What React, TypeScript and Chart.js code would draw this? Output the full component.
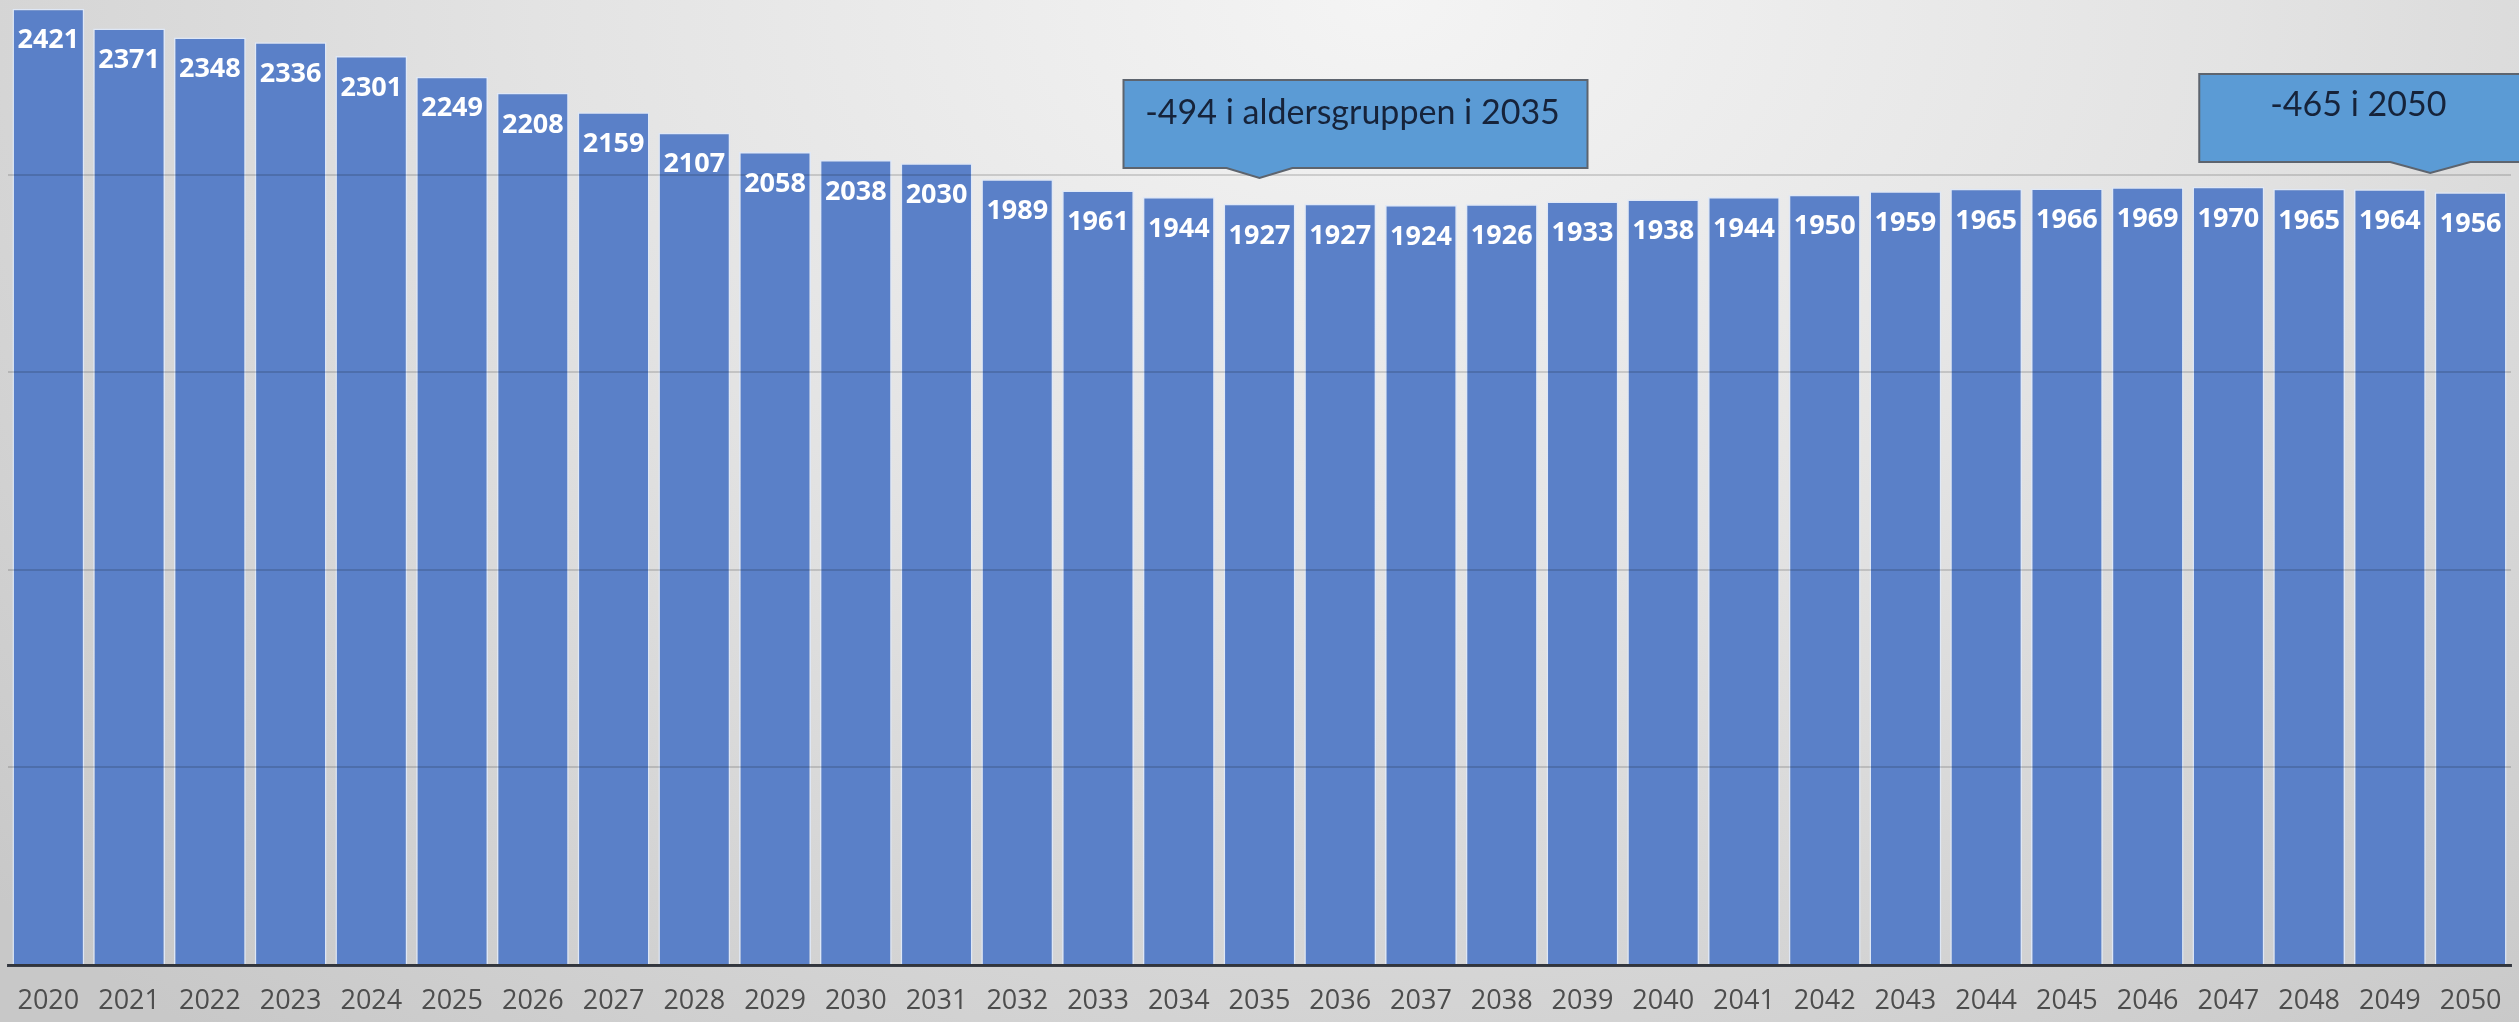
import React, { useEffect, useRef } from "react";
import { Chart, registerables } from "chart.js";

Chart.register(...registerables);

const years = [
  "2020", "2021", "2022", "2023", "2024", "2025", "2026", "2027", "2028", "2029",
  "2030", "2031", "2032", "2033", "2034", "2035", "2036", "2037", "2038", "2039",
  "2040", "2041", "2042", "2043", "2044", "2045", "2046", "2047", "2048", "2049", "2050",
];
const values = [
  2421, 2371, 2348, 2336, 2301, 2249, 2208, 2159, 2107, 2058,
  2038, 2030, 1989, 1961, 1944, 1927, 1927, 1924, 1926, 1933,
  1938, 1944, 1950, 1959, 1965, 1966, 1969, 1970, 1965, 1964, 1956,
];
const yTicks = [0, 500, 1000, 1500, 2000];
const calloutTexts = ["-494 i aldersgruppen i 2035", "-465 i 2050"];

const labelPlugin = {
  id: "barLabelsAndCallouts",
  afterDraw(chart: any) {
    const ctx = chart.ctx;
    const meta = chart.getDatasetMeta(0);
    ctx.save();
    ctx.fillStyle = "#ffffff";
    ctx.font = "bold 27px 'Open Sans'";
    ctx.textAlign = "center";
    ctx.textBaseline = "middle";
    meta.data.forEach((bar: any, i: number) => {
      ctx.fillText(String(values[i]), bar.x, bar.y + 32);
    });
    ctx.restore();

    const xs = chart.scales.x;
    const pitch = xs.getPixelForValue(1) - xs.getPixelForValue(0);
    const tip1 = xs.getPixelForValue(years.indexOf("2035"));
    const tip2 = xs.getPixelForValue(years.indexOf("2049")) + pitch / 2;
    const shapes = [
      { text: calloutTexts[0], tipX: tip1, tipY: 178, left: tip1 - 136, right: tip1 + 328, top: 80, bottom: 168, half: 33, tx: tip1 + 93, ty: 113, maxW: 425 },
      { text: calloutTexts[1], tipX: tip2, tipY: 173, left: tip2 - 231, right: tip2 + 93, top: 74, bottom: 162, half: 40, tx: tip2 - 72, ty: 105, maxW: 185 },
    ];
    shapes.forEach((s) => {
      ctx.save();
      ctx.beginPath();
      ctx.moveTo(s.left, s.top);
      ctx.lineTo(s.right, s.top);
      ctx.lineTo(s.right, s.bottom);
      ctx.lineTo(s.tipX + s.half, s.bottom);
      ctx.lineTo(s.tipX, s.tipY);
      ctx.lineTo(s.tipX - s.half, s.bottom);
      ctx.lineTo(s.left, s.bottom);
      ctx.closePath();
      ctx.fillStyle = "#5b9bd5";
      ctx.fill();
      ctx.lineWidth = 2;
      ctx.strokeStyle = "#5d646e";
      ctx.stroke();
      ctx.fillStyle = "#16233a";
      ctx.font = "34px Lato";
      ctx.textAlign = "center";
      ctx.textBaseline = "middle";
      ctx.fillText(s.text, s.tx, s.ty, s.maxW);
      ctx.restore();
    });
  },
};

export default function App() {
  const canvasRef = useRef<HTMLCanvasElement | null>(null);

  useEffect(() => {
    if (!canvasRef.current) return;
    const chart = new Chart(canvasRef.current, {
      type: "bar",
      data: {
        labels: years,
        datasets: [
          {
            data: values,
            backgroundColor: "#5a80c8",
            borderColor: "rgba(222,232,248,0.95)",
            borderWidth: 1.5,
            barPercentage: 0.89,
            categoryPercentage: 1,
          },
        ],
      },
      options: {
        animation: false,
        responsive: true,
        maintainAspectRatio: false,
        layout: { padding: { left: 8, right: 8, top: 0, bottom: 0 } },
        plugins: {
          legend: { display: false },
          tooltip: { enabled: false },
        },
        scales: {
          x: {
            grid: { display: false, drawTicks: true, tickLength: 20 },
            border: { display: true, color: "#3a3e47", width: 3 },
            ticks: {
              color: "#4d4d4d",
              font: { family: "'Open Sans'", size: 27 },
              padding: 0,
              maxRotation: 0,
              autoSkip: false,
            },
            afterFit: (s: any) => {
              s.height = 57;
            },
          },
          y: {
            min: 0,
            max: 2443,
            ticks: { display: false },
            border: { display: false },
            grid: { color: "rgba(0,0,0,0.14)", lineWidth: 2, drawTicks: false, z: 1 },
            afterBuildTicks: (s: any) => {
              s.ticks = yTicks.map((v) => ({ value: v }));
            },
            afterFit: (s: any) => {
              s.width = 0;
            },
          },
        },
      },
      plugins: [labelPlugin],
    });
    return () => chart.destroy();
  }, []);

  return (
    <div
      style={{
        position: "absolute",
        left: 0,
        top: 0,
        width: 2519,
        height: 1022,
        background:
          "radial-gradient(ellipse 75% 130% at 55% 0%, #f4f4f4 0%, #e3e3e3 45%, #c8c8c8 100%)",
      }}
    >
      <canvas ref={canvasRef} />
    </div>
  );
}
